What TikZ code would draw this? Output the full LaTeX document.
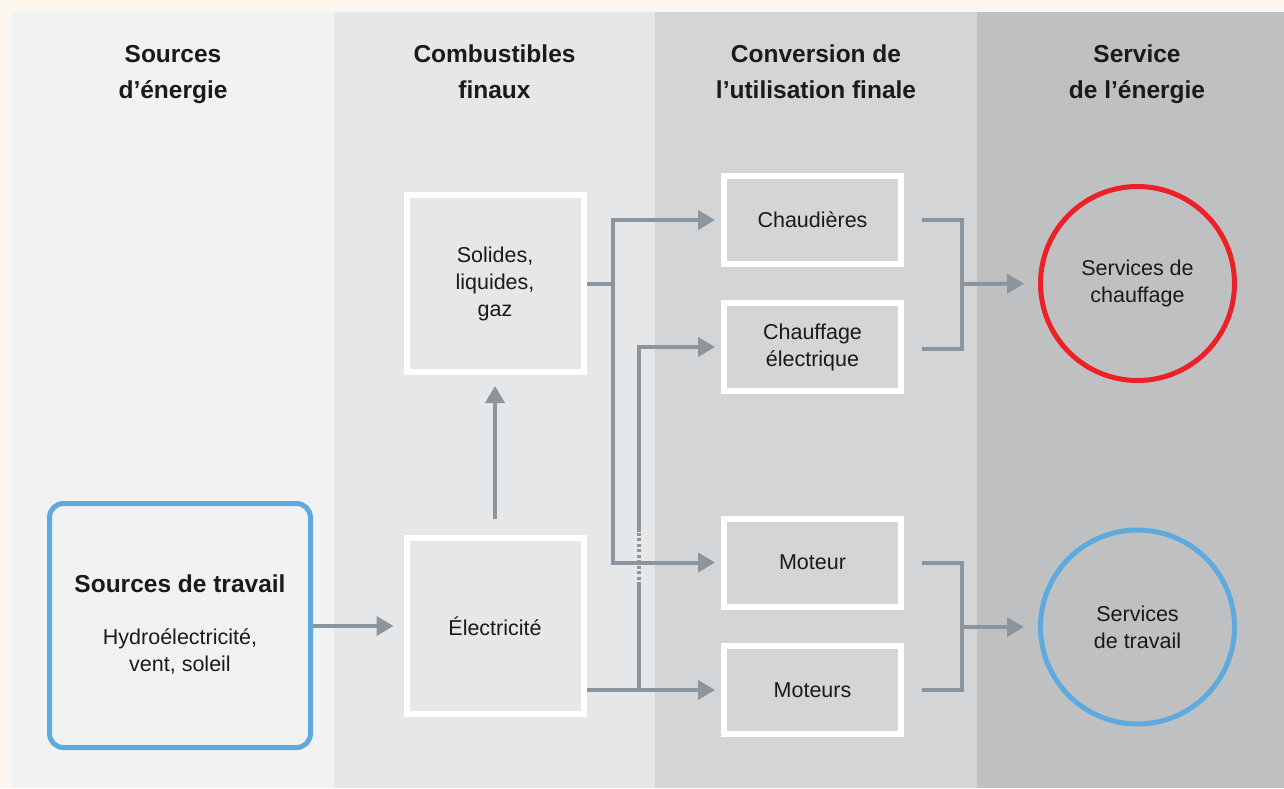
\documentclass[tikz,border=0pt]{standalone}
\usepackage{fontspec}
\setmainfont{Liberation Sans}
\usetikzlibrary{arrows.meta,calc}
\definecolor{cream}{HTML}{FDF6EF}
\definecolor{colA}{HTML}{F1F2F2}
\definecolor{colB}{HTML}{E6E7E8}
\definecolor{colC}{HTML}{D4D5D6}
\definecolor{colD}{HTML}{BFC0C2}
\definecolor{arr}{HTML}{8A959E}
\definecolor{bluec}{HTML}{5EA9DD}
\definecolor{redc}{HTML}{EC2027}
\definecolor{txt}{HTML}{1A1A1A}
\tikzset{
  header/.style={font=\fontsize{24.5}{36}\selectfont\bfseries, align=center, text=txt},
  body/.style={font=\fontsize{21.5}{27}\selectfont, align=center, text=txt},
  wbox/.style={body, draw=white, line width=6pt, inner sep=0pt, minimum width=177pt},
  circ/.style={body, circle, line width=5pt, minimum size=194pt, inner sep=0pt},
  conn/.style={draw=arr, line width=4pt},
  arw/.style={conn, -{Triangle[length=17pt,width=19pt]}},
}
\begin{document}
\begin{tikzpicture}[x=1pt,y=-1pt]
\useasboundingbox (0,0) rectangle (1284,788);
% backgrounds
\fill[cream] (0,0) rectangle (1284,788);
\fill[colA] (12,12) rectangle (334,788);
\fill[colB] (334,12) rectangle (655,788);
\fill[colC] (655,12) rectangle (977,788);
\fill[colD] (977,12) rectangle (1284,788);
% headers
\node[header] (h1) at (173,73) {\strut Sources\\\strut d’énergie};
\node[header] (h2) at (494.5,73) {\strut Combustibles\\\strut finaux};
\node[header] (h3) at (816,73) {\strut Conversion de\\\strut l’utilisation finale};
\node[header] (h4) at (1137,73) {\strut Service\\\strut de l’énergie};
% source box
\node[draw=bluec, line width=5pt, rounded corners=14pt, minimum width=261pt, minimum height=244pt, inner sep=0pt] (src) at (180,625.5) {};
\node[header] (srct) at (180,584) {Sources de travail};
\node[body] (srcs) at (180,651.5) {Hydroélectricité,\\vent, soleil};
% fuel boxes
\node[wbox, minimum height=177pt] (sol) at (495,283.5) {Solides,\\liquides,\\gaz};
\node[wbox, minimum height=176pt] (elec) at (495,626) {Électricité};
% conversion boxes
\node[wbox, minimum width=177pt, minimum height=88pt] (chaud) at (812.5,220) {Chaudières};
\node[wbox, minimum width=177pt, minimum height=88pt] (chel) at (812.5,347) {Chauffage\\électrique};
\node[wbox, minimum width=177pt, minimum height=88pt] (mot) at (812.5,562.5) {Moteur};
\node[wbox, minimum width=177pt, minimum height=88pt] (mots) at (812.5,690) {Moteurs};
% services
\node[circ, draw=redc] (heat) at (1137.5,283.5) {Services de\\chauffage};
\node[circ, draw=bluec] (work) at (1137.5,627) {Services\\de travail};
% connectors
\coordinate (j1) at (613,283.5);
\coordinate (j2) at (638.5,690);
\coordinate (d1) at (638.5,585);
\coordinate (d2) at (638.5,532);
\coordinate (b1) at (961.5,284);
\coordinate (b2) at (961.5,627);
\draw[arw, shorten >=10pt] (src.east |- elec.west) -- (elec.west);
\draw[arw, shorten <=16pt, shorten >=11pt] (elec.north) -- (sol.south);
% electricity distribution
\draw[arw, shorten >=6pt] (elec.east |- mots.west) -- (mots.west);
\draw[conn] (j2) -- (d1);
\draw[draw=arr, line width=4pt, dash pattern=on 3pt off 2.5pt] (d1) -- (d2);
\draw[arw, shorten >=6pt] (d2) |- (chel.west);
% fuels distribution
\draw[conn] (sol.east) -- (j1);
\draw[arw, shorten >=6pt] (j1) |- (chaud.west);
\draw[arw, shorten >=6pt] (j1) |- (mot.west);
% brackets
\draw[conn] ($(chaud.east)+(18,0)$) -| (b1) |- ($(chel.east)+(18,2)$);
\draw[arw, shorten >=14pt] (b1) -- (heat.west);
\draw[conn] ($(mot.east)+(18,0)$) -| (b2) |- ($(mots.east)+(18,0)$);
\draw[arw, shorten >=14pt] (b2) -- (work.west);
\end{tikzpicture}
\end{document}
